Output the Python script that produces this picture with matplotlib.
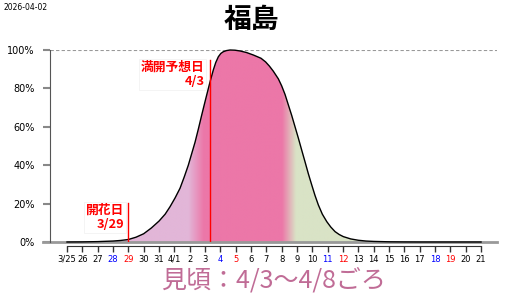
import matplotlib
matplotlib.use("Agg")
import matplotlib.pyplot as plt
import numpy as np
from matplotlib.patches import Polygon

plt.rcParams['font.family'] = ['DejaVu Sans', 'Noto Sans CJK JP']

# 日付ラベル (3/25 〜 4/21)
tick_labels = ["3/25", "26", "27", "28", "29", "30", "31", "4/1", "2", "3",
               "4", "5", "6", "7", "8", "9", "10", "11", "12", "13",
               "14", "15", "16", "17", "18", "19", "20", "21"]
tick_colors = ["black", "black", "black", "blue", "red", "black", "black", "black", "black", "black",
               "blue", "red", "black", "black", "black", "black", "black", "blue", "red", "black",
               "black", "black", "black", "black", "blue", "red", "black", "black"]

# 開花率カーブ (3/25からの日数, %)  画像から読み取り
days = [0, 1, 2, 3, 3.5, 4, 4.5, 5, 5.5, 6, 6.4, 6.72, 7.05, 7.37, 7.65, 7.91, 8.13,
        8.35, 8.57, 8.78, 8.95, 9.11, 9.33, 9.54, 9.7, 9.87, 10.03, 10.19, 10.4,
        10.63, 10.95, 11.28, 11.7, 12.15, 12.65, 12.95, 13.2, 13.45, 13.78, 14.0, 14.22,
        14.43, 14.65, 14.87, 15.09, 15.3, 15.52, 15.74, 15.96, 16.17, 16.39, 16.65,
        16.94, 17.2, 17.48, 17.75, 18.02, 18.5, 19, 19.5, 20, 21, 22, 23, 24, 25, 26, 27]
bloom = [0, 0.05, 0.2, 0.5, 0.8, 1.3, 2.5, 4.3, 7.3, 10.9, 14.5, 18.4, 23, 28, 34, 40, 46,
         52, 59, 66, 71.5, 76.6, 83.5, 89.6, 93.5, 96.5, 98.2, 99.1, 99.7,
         100, 99.9, 99.5, 98.7, 97.4, 95.7, 93.8, 91.6, 89.0, 85, 81.3, 76.8,
         71.5, 66, 60, 54, 48, 41.8, 35.5, 29.7, 24.3, 19.3, 14.5,
         10.6, 7.8, 5.4, 3.9, 2.8, 1.6, 0.9, 0.5, 0.3, 0.1, 0.03, 0, 0, 0, 0, 0]

kaika_day = 4       # 3/29
mankai_day = 9.33   # 4/3
mikoro_start = 8.9
mikoro_end = 14.0

fig = plt.figure(figsize=(5.12, 3.0), dpi=100)
ax = fig.add_axes([50/512, 58/300, 447/512, 192/300])

# グラデーション塗り
purple = np.array([0xe2, 0xb6, 0xd8]) / 255
pink = np.array([0xec, 0x77, 0xa8]) / 255
green = np.array([0xd9, 0xe3, 0xc6]) / 255
gx = np.linspace(0, 27, 600)
keys = [mikoro_start - 1.0, mikoro_start, mikoro_end, mikoro_end + 0.9]
img = np.zeros((1, len(gx), 3))
for c in range(3):
    img[0, :, c] = np.interp(gx, keys, [purple[c], pink[c], pink[c], green[c]])
im = ax.imshow(img, extent=[0, 27, 0, 100], aspect='auto', origin='lower',
               zorder=1, interpolation='bilinear')
verts = np.column_stack([days + [27, 0], bloom + [0, 0]])
patch = Polygon(verts, closed=True, facecolor='none', edgecolor='none')
ax.add_patch(patch)
im.set_clip_path(patch)

ax.plot(days, bloom, color='black', lw=1, zorder=3, clip_on=False)

ax.set_xlim(-1.109, 28.04)
ax.set_ylim(0, 100)

# 軸
ax.axhline(100, color='#999999', lw=0.8, ls=(0, (3, 2)), zorder=0)
ax.axhline(0, xmin=-7/447, xmax=1, color='#999999', lw=2, clip_on=False, zorder=2)
for s in ['top', 'right']:
    ax.spines[s].set_visible(False)
ax.spines['left'].set_color('#555555')
ax.spines['bottom'].set_position(('outward', 3))
ax.spines['bottom'].set_bounds(0, 27)
ax.spines['bottom'].set_color('#333333')

ax.set_yticks([0, 20, 40, 60, 80, 100])
ax.set_yticklabels([f"{v}%" for v in [0, 20, 40, 60, 80, 100]])
ax.tick_params(axis='y', length=5, width=1.5, color='#888888', pad=6, labelsize=7)
ax.set_xticks(range(len(tick_labels)))
ax.set_xticklabels(tick_labels)
ax.tick_params(axis='x', length=4.3, width=1, color='#333333', pad=2, labelsize=6)
for t, c in zip(ax.get_xticklabels(), tick_colors):
    t.set_color(c)

# 開花日・満開日
ax.plot([kaika_day, kaika_day], [0, 20.3], color='red', lw=1, zorder=4)
ax.plot([mankai_day, mankai_day], [0, 94.8], color='red', lw=1, zorder=4)
ax.annotate("開花日\n3/29", (kaika_day, 20), xytext=(-3, 0), textcoords='offset points',
            ha='right', va='top', fontsize=9.2, fontweight='bold', color='red',
            family=['Noto Sans CJK JP'], linespacing=1.1, zorder=5,
            bbox=dict(boxstyle='square,pad=0.15', fc='white', ec='#f0f0f0', lw=0.5))
ax.annotate("満開予想日\n4/3", (mankai_day, 94.5), xytext=(-4, 0), textcoords='offset points',
            ha='right', va='top', fontsize=9.2, fontweight='bold', color='red',
            family=['Noto Sans CJK JP'], linespacing=1.15, zorder=5,
            bbox=dict(boxstyle='square,pad=0.15', fc='white', ec='#f0f0f0', lw=0.5))

fig.text(251/512, 1 - 20/300, "福島", ha='center', va='center', fontsize=20,
         fontweight='bold', family=['Noto Sans CJK JP'])
fig.text(4/512, 1 - 7/300, "2026-04-02", ha='left', va='center', fontsize=5.5)
fig.text(273/512, 1 - 281/300, "見頃：4/3〜4/8ごろ", ha='center', va='center',
         fontsize=18, color='#c06c96', family=['Noto Sans CJK JP'])

fig.savefig("out.png", dpi=100)
